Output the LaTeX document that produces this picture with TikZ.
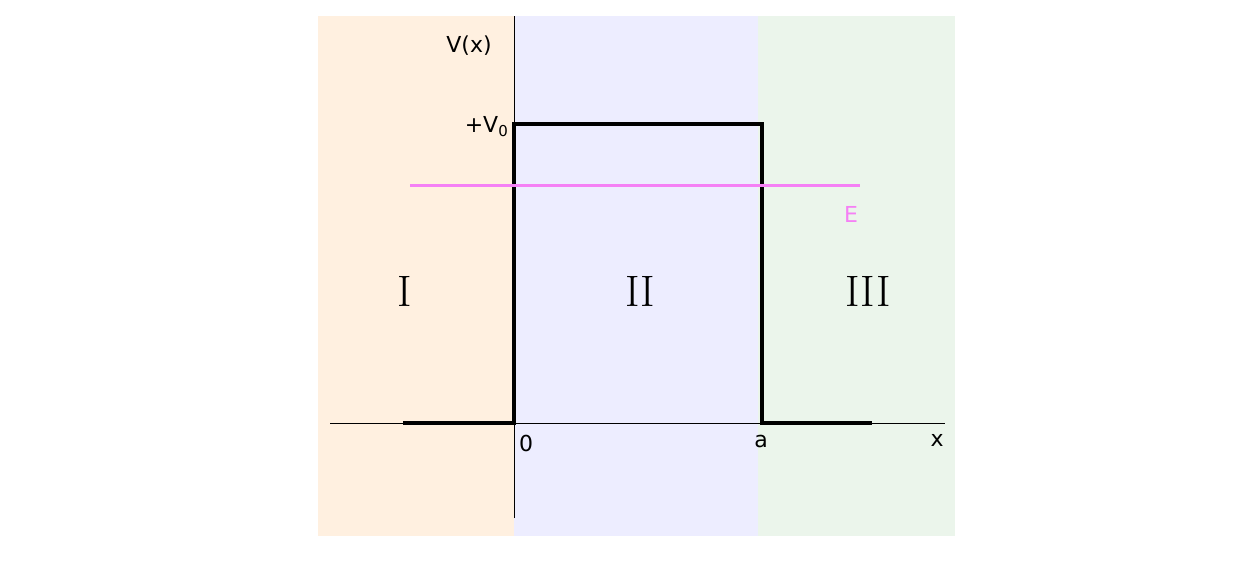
\documentclass[tikz,border=0pt]{standalone}
\usepackage{fontspec}
\newfontfamily\dv{DejaVu Sans}
\begin{document}
\begin{tikzpicture}[x=1pt,y=-1pt,
  lab/.style={font=\dv\fontsize{22}{24}\selectfont,inner sep=0pt},
  roman/.style={font=\rmfamily\fontsize{44}{48}\selectfont,inner sep=0pt},
  pot/.style={line width=4pt,line join=miter}]
\useasboundingbox (0,0) rectangle (1250,570);
\fill[orange!12] (318,16) rectangle (514,536);
\fill[blue!7] (514,16) rectangle (758,536);
\fill[green!50!black!8] (758,16) rectangle (955,536);
\coordinate (xl) at (330,423); \coordinate (xr) at (945,423);
\coordinate (yt) at (514,16); \coordinate (yb) at (514,518);
\draw[line width=0.8pt] (xl) -- (xr);
\draw[line width=0.8pt] (yb) -- (yt);
\draw[pot] (403,423) -- (514,423) -- (514,124) -- (762,124) -- (762,423) -- (872,423);
\coordinate (e1) at (410,185); \coordinate (e2) at (860,185);
\draw[line width=3pt,color={rgb,255:red,245;green,128;blue,245}] (e1) -- (e2);
\node[lab] (vx) at (469,46) {V(x)};
\node[lab,anchor=east] (v0) at (508,127) {+V\raisebox{-4pt}{\fontsize{15}{16}\selectfont 0}};
\node[lab,text={rgb,255:red,245;green,128;blue,245}] (E) at (851,214) {E};
\node[roman] (r1) at (405,291) {I};
\node[roman] (r2) at (640,291) {II};
\node[roman] (r3) at (868,291) {III};
\node[lab] (o) at (526,443) {0};
\node[lab] (a) at (761,441) {a};
\node[lab] (x) at (937,440) {x};
\end{tikzpicture}
\end{document}
